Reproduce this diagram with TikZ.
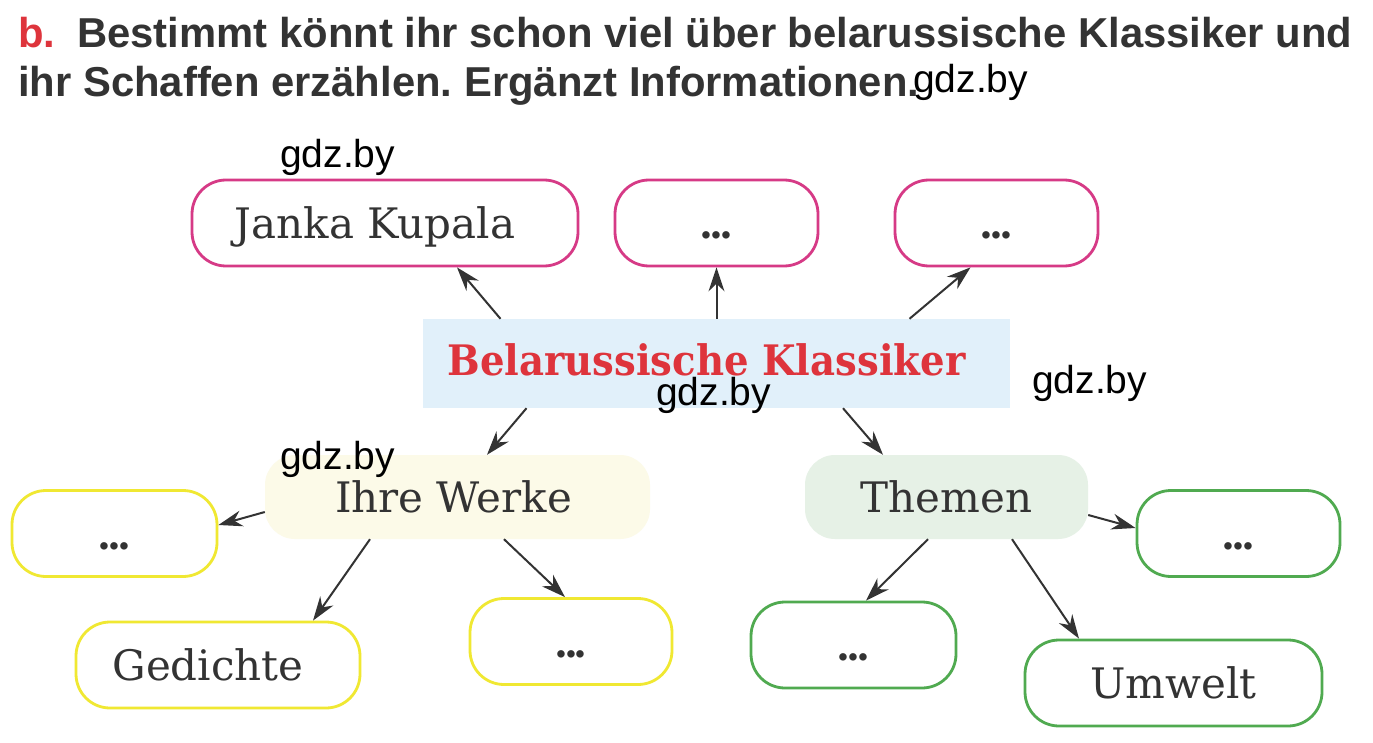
\documentclass[tikz,border=0pt]{standalone}
\usepackage{fontspec}
\setmainfont{DejaVu Serif}
\newfontfamily\titlefont{Liberation Sans}
\usetikzlibrary{arrows.meta}
\definecolor{textgray}{RGB}{51,51,51}
\definecolor{titlered}{RGB}{222,52,60}
\definecolor{pinkc}{RGB}{214,58,134}
\definecolor{yellowc}{RGB}{240,232,50}
\definecolor{greenc}{RGB}{80,170,80}
\definecolor{centerblue}{RGB}{225,240,250}
\definecolor{yellowfill}{RGB}{252,250,232}
\definecolor{greenfill}{RGB}{230,241,230}
\definecolor{arrowc}{RGB}{51,51,51}
\newcommand{\dotdotdot}{.\kern-4pt.\kern-4pt.}
\frenchspacing
\tikzset{
  box/.style={draw, line width=2.8pt, rounded corners=34pt, fill=white, inner sep=0pt,
    minimum height=86pt, text=textgray, font=\fontsize{42}{42}\selectfont,
    text height=31pt, text depth=0pt},
  pinkbox/.style={box, draw=pinkc},
  yellowbox/.style={box, draw=yellowc},
  greenbox/.style={box, draw=greenc},
  catbox/.style={inner sep=0pt, rounded corners=30pt, minimum height=84pt, text=textgray,
    font=\fontsize{42}{42}\selectfont, text height=31pt, text depth=0pt},
  dots/.style={font=\fontsize{40}{40}\selectfont\bfseries},
  arr/.style={draw=arrowc, line width=2pt, -{Stealth[length=24pt,width=16pt]}},
  wm/.style={anchor=base west, inner sep=0pt, text=black, font=\titlefont\fontsize{39}{39}\selectfont},
  title/.style={anchor=base west, inner sep=0pt, text=textgray, font=\titlefont\bfseries\fontsize{41.8}{41.8}\selectfont}
}
\begin{document}
\begin{tikzpicture}[x=1pt,y=-1pt]
\useasboundingbox[fill=white] (0,0) rectangle (1373,743);

% title
\node[title, text=titlered] (tb) at (18,48) {b.};
\node[title] (t1) at (77,48) {Bestimmt könnt ihr schon viel über belarussische Klassiker und};
\node[title] (t2) at (18,97) {ihr Schaffen erzählen. Ergänzt Informationen.};

% central
\node[fill=centerblue, inner sep=0pt, minimum width=587pt, minimum height=89pt,
  text=titlered, font=\fontsize{42}{42}\selectfont\bfseries, text height=32pt, text depth=9pt]
  (center) at (716.5,363.5) {\scalebox{0.92}[1]{Belarussische Klassiker}\kern20pt};

% top boxes
\node[pinkbox, minimum width=386pt] (janka) at (385,223) {Janka Kupala\kern20pt};
\node[pinkbox, minimum width=203pt, dots] (top2) at (716.5,223) {\dotdotdot};
\node[pinkbox, minimum width=203pt, dots] (top3) at (996.5,223) {\dotdotdot};

% categories
\node[catbox, fill=yellowfill, minimum width=385pt] (werke) at (457.5,497) {Ihre Werke\kern8pt};
\node[catbox, fill=greenfill, minimum width=283pt] (themen) at (946.5,497) {Themen};

% yellow boxes
\node[yellowbox, minimum width=205pt, dots] (y1) at (114.5,533.5) {\dotdotdot};
\node[yellowbox, minimum width=284pt] (gedichte) at (218,665) {Gedichte\kern20pt};
\node[yellowbox, minimum width=202pt, dots] (y3) at (571,641.5) {\dotdotdot};

% green boxes
\node[greenbox, minimum width=203pt, dots] (g1) at (1238.5,533.5) {\dotdotdot};
\node[greenbox, minimum width=205pt, dots] (g2) at (853.5,645) {\dotdotdot};
\node[greenbox, minimum width=297pt] (umwelt) at (1173.5,683) {Umwelt};

% arrows
\draw[arr] ([xshift=-216pt]center.north) -- ([xshift=72pt]janka.south);
\draw[arr] (center.north) -- (top2.south);
\draw[arr] ([xshift=193pt]center.north) -- ([xshift=-26pt]top3.south);
\draw[arr] ([xshift=-190pt]center.south) -- ([xshift=29.5pt]werke.north);
\draw[arr] ([xshift=126.5pt]center.south) -- ([xshift=-63.5pt]themen.north);
\draw[arr] ([yshift=-15pt]werke.west) -- ([yshift=8.5pt]y1.east);
\draw[arr] ([xshift=-87.5pt]werke.south) -- ([xshift=95pt]gedichte.north);
\draw[arr] ([xshift=46.5pt]werke.south) -- ([xshift=-6pt]y3.north);
\draw[arr] ([yshift=-18pt]themen.east) -- ([yshift=5.5pt]g1.west);
\draw[arr] ([xshift=-18.5pt]themen.south) -- ([xshift=12.5pt]g2.north);
\draw[arr] ([xshift=65.5pt]themen.south) -- ([xshift=-94.5pt]umwelt.north);

% watermarks
\node[wm] (w1) at (913,93) {gdz.by};
\node[wm] (w2) at (280,168) {gdz.by};
\node[wm] (w3) at (656,405) {gdz.by};
\node[wm] (w4) at (1032,393) {gdz.by};
\node[wm] (w5) at (280,469) {gdz.by};
\end{tikzpicture}
\end{document}
